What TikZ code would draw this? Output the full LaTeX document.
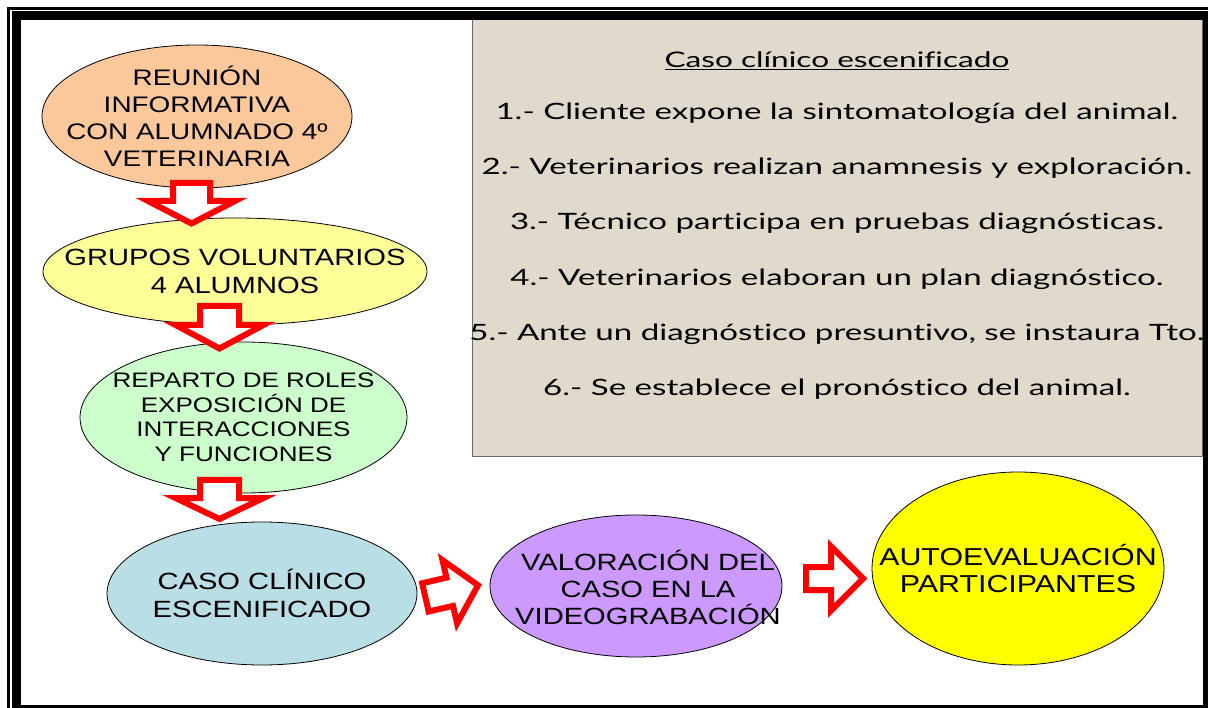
\documentclass[tikz,border=0pt]{standalone}
\usepackage{fontspec}
\setmainfont{Liberation Sans}
\newfontfamily\ovalfont[FakeStretch=1.24]{Liberation Sans}
\newfontfamily\casofont[FakeStretch=1.47,Ligatures=NoCommon]{Lato}
\usetikzlibrary{shapes.geometric}
\definecolor{melocoton}{RGB}{250,200,155}
\definecolor{amarillo}{RGB}{255,255,153}
\definecolor{verde}{RGB}{204,255,204}
\definecolor{celeste}{RGB}{185,222,230}
\definecolor{lila}{RGB}{204,153,255}
\definecolor{limon}{RGB}{255,255,0}
\definecolor{arena}{RGB}{225,217,203}
\begin{document}
\begin{tikzpicture}[x=1pt,y=-1pt,
    oval/.style={draw=black,line width=0.8pt},
    ovaltexto/.style={inner sep=0pt,align=center},
    flecha/.style={draw=red,fill=white,line width=6pt,line join=miter},
    pics/flechagruesa/.style n args={4}{code={
      \draw[flecha] (-#1,0) -- (-#1,#3) -- (-#2,#3) -- (0,#3+#4) -- (#2,#3) -- (#1,#3) -- (#1,0) -- cycle;}}]
  \useasboundingbox (0,0) rectangle (1208,708);
  \clip (0,0) rectangle (1208,708);
  \fill[white] (0,0) rectangle (1208,708);
  \node[draw=black!60,fill=arena,line width=1pt,inner sep=0pt,
    minimum width=730pt,minimum height=437pt] (caso) at (837,238.5) {};
  \draw[line width=9pt] (16.5,15.5) rectangle (1207.5,709.5);
  \draw[line width=3pt] (8.5,8.5) rectangle (1216,718);
  \node[anchor=base,font=\casofont\fontsize{21.5}{21.5}\selectfont] (titulo) at (837,68)
    {\underline{Caso clínico escenificado}};
  \foreach \paso [count=\i] in {
      {1.- Cliente expone la sintomatología del animal.},
      {2.- Veterinarios realizan anamnesis y exploración.},
      {3.- Técnico participa en pruebas diagnósticas.},
      {4.- Veterinarios elaboran un plan diagnóstico.},
      {5.- Ante un diagnóstico presuntivo, se instaura Tto.},
      {6.- Se establece el pronóstico del animal.}}
    \node[anchor=base,font=\casofont\fontsize{22.5}{22.5}\selectfont] (paso\i) at (837,{64.3+55.2*\i}) {\paso};
  \path[oval,fill=melocoton] (197,116.5) ellipse [x radius=155,y radius=71.5]
    node[ovaltexto,font=\ovalfont\fontsize{22.5}{27}\selectfont] (reunion)
    {REUNIÓN\\INFORMATIVA\\CON ALUMNADO 4º\\VETERINARIA};
  \path[oval,fill=amarillo] (235,271.5) ellipse [x radius=192,y radius=53.5]
    node[ovaltexto,font=\ovalfont\fontsize{23.5}{27.5}\selectfont] (grupos)
    {GRUPOS VOLUNTARIOS\\4 ALUMNOS};
  \path[oval,fill=verde] (243.5,417.5) ellipse [x radius=163.5,y radius=75.5]
    node[ovaltexto,font=\ovalfont\fontsize{21}{24.5}\selectfont] (reparto)
    {REPARTO DE ROLES\\EXPOSICIÓN DE\\INTERACCIONES\\Y FUNCIONES};
  \path[oval,fill=celeste] (262,593.5) ellipse [x radius=155,y radius=71.5]
    node[ovaltexto,font=\ovalfont\fontsize{23.5}{28}\selectfont] (escena)
    {CASO CLÍNICO\\ESCENIFICADO};
  \path[oval,fill=lila] (636,586) ellipse [x radius=146,y radius=71];
  \node[ovaltexto,font=\ovalfont\fontsize{23.5}{27}\selectfont] (video) at (648,587)
    {VALORACIÓN DEL\\CASO EN LA\\VIDEOGRABACIÓN};
  \path[oval,fill=limon] (1018,568.5) ellipse [x radius=146,y radius=96.5]
    node[ovaltexto,font=\ovalfont\fontsize{24.5}{27}\selectfont] (autoeval)
    {AUTOEVALUACIÓN\\PARTICIPANTES};
  \pic at (191.5,183) {flechagruesa={18.5}{43.5}{18}{22.5}};
  \pic at (219.5,306) {flechagruesa={19.5}{44}{19}{23.5}};
  \pic at (219.5,480) {flechagruesa={19.5}{44}{18}{21}};
  \pic[rotate=103] at (425.4,597.4) {flechagruesa={14.5}{32.5}{25}{29}};
  \pic[rotate=90] at (806,578.5) {flechagruesa={11.5}{32}{25}{32}};
\end{tikzpicture}
\end{document}
